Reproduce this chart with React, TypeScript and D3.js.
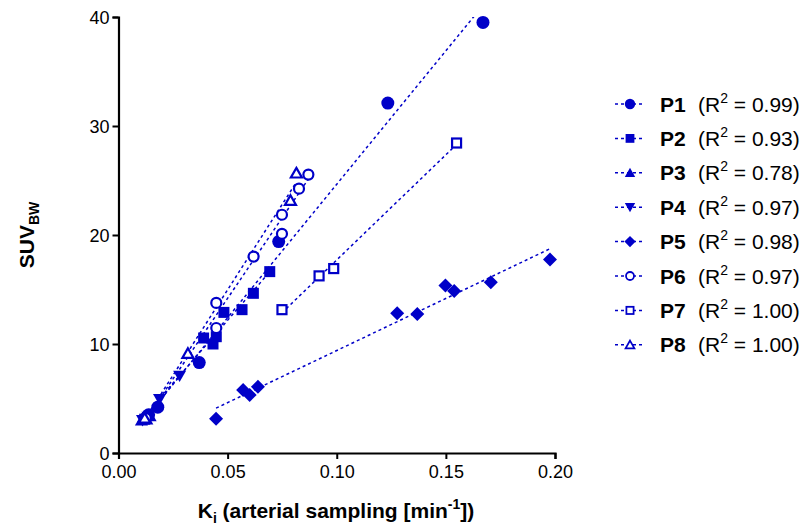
import * as d3 from "d3";
import { useEffect, useRef } from "react";

// Ki (arterial sampling) vs SUVbw per patient
const p1 = [[0.0125, 3.2], [0.0138, 3.5], [0.018, 4.2], [0.037, 8.3], [0.0734, 19.4], [0.1234, 32.1], [0.167, 39.5]];
const p2 = [[0.012, 3.1], [0.039, 10.55], [0.0433, 10.0], [0.0448, 10.67], [0.0483, 12.9], [0.0566, 13.15], [0.0618, 14.65], [0.0693, 16.64]];
const p3 = [[0.0105, 3.0], [0.0115, 3.3], [0.013, 3.1], [0.0145, 3.4]];
const p4 = [[0.011, 3.0], [0.0135, 3.3], [0.0188, 4.93], [0.028, 7.08]];
const p5 = [[0.0447, 3.15], [0.0571, 5.77], [0.0601, 5.33], [0.0639, 6.07], [0.1277, 12.81], [0.1369, 12.75], [0.1498, 15.36], [0.1538, 14.87], [0.1706, 15.66], [0.1977, 17.75]];
const p6 = [[0.0125, 3.2], [0.0448, 13.77], [0.0448, 11.47], [0.0619, 18.02], [0.0749, 20.11], [0.0749, 21.86], [0.0827, 24.25], [0.087, 25.54]];
const p7 = [[0.0749, 13.15], [0.0919, 16.25], [0.0986, 16.92], [0.1549, 28.44]];
const p8 = [[0.012, 3.2], [0.0318, 9.13], [0.0788, 23.17], [0.0815, 25.68]];

const patients = ["P1", "P2", "P3", "P4", "P5", "P6", "P7", "P8"];
const r2Labels = ["0.99", "0.93", "0.78", "0.97", "0.98", "0.97", "1.00", "1.00"];
const shapes = ["circle", "square", "triangle", "triangleDown", "diamond", "circleOpen", "squareOpen", "triangleOpen"];
const allSeries = [p1, p2, p3, p4, p5, p6, p7, p8];

const xTicks = [0, 0.05, 0.1, 0.15, 0.2];
const yTicks = [0, 10, 20, 30, 40];

const BLUE = "#0000c8";
const FONT = "Arial, 'Liberation Sans', Helvetica, sans-serif";

// simple least squares fit
const fit = (pts) => {
    const mx = d3.mean(pts, d => d[0]);
    const my = d3.mean(pts, d => d[1]);
    const sxy = d3.sum(pts, d => (d[0] - mx) * (d[1] - my));
    const sxx = d3.sum(pts, d => (d[0] - mx) ** 2);
    const slope = sxy / sxx;
    return { slope, intercept: my - slope * mx };
};

const drawMarker = (g, shape, x, y, k) => {
    const open = shape.endsWith("Open");
    const fill = open ? "white" : BLUE;
    const sw = open ? 2.2 * k : 0;
    if (shape.startsWith("circle")) {
        g.append("circle").attr("cx", x).attr("cy", y).attr("r", (open ? 5 : 6.5) * k)
            .attr("fill", fill).attr("stroke", BLUE).attr("stroke-width", sw);
    } else if (shape.startsWith("square")) {
        const s = (open ? 9 : 11) * k;
        g.append("rect").attr("x", x - s / 2).attr("y", y - s / 2).attr("width", s).attr("height", s)
            .attr("fill", fill).attr("stroke", BLUE).attr("stroke-width", sw);
    } else if (shape === "diamond") {
        const h = 7 * k;
        g.append("path").attr("d", `M${x},${y - h}L${x + h},${y}L${x},${y + h}L${x - h},${y}Z`).attr("fill", BLUE);
    } else if (shape === "triangleDown") {
        const h = 6.5 * k;
        g.append("path").attr("d", `M${x - h},${y - h * 0.8}L${x + h},${y - h * 0.8}L${x},${y + h * 0.95}Z`).attr("fill", BLUE);
    } else {
        const h = (open ? 5.5 : 6.5) * k;
        g.append("path").attr("d", `M${x},${y - h * 0.95}L${x + h},${y + h * 0.8}L${x - h},${y + h * 0.8}Z`)
            .attr("fill", fill).attr("stroke", BLUE).attr("stroke-width", sw).attr("stroke-linejoin", "miter");
    }
};

const App = () => {
    const chartRef = useRef(null);

    useEffect(() => {
        const svg = d3.select(chartRef.current);
        svg.selectAll("*").remove();

        const x = d3.scaleLinear().domain([0, 0.2]).range([118.5, 555]);
        const y = d3.scaleLinear().domain([0, 40]).range([453, 17]);

        svg.append("clipPath").attr("id", "plotclip")
            .append("rect").attr("x", 118).attr("y", 17).attr("width", 440).attr("height", 437);

        // fit lines
        const lines = svg.append("g").attr("clip-path", "url(#plotclip)");
        allSeries.forEach(pts => {
            const { slope, intercept } = fit(pts);
            const [x0, x1] = d3.extent(pts, d => d[0]);
            lines.append("line")
                .attr("x1", x(x0)).attr("y1", y(slope * x0 + intercept))
                .attr("x2", x(x1)).attr("y2", y(slope * x1 + intercept))
                .attr("stroke", BLUE).attr("stroke-width", 1.5).attr("stroke-dasharray", "3,3");
        });

        // points
        const pts = svg.append("g");
        allSeries.forEach((series, i) => {
            series.forEach(d => drawMarker(pts, shapes[i], x(d[0]), y(d[1]), 1));
        });

        // axes
        const xAxis = svg.append("g").attr("transform", `translate(0, ${y(0)})`)
            .call(d3.axisBottom(x).tickValues(xTicks).tickFormat(d3.format(".2f")).tickSizeOuter(0).tickSize(6).tickPadding(6));
        const yAxis = svg.append("g").attr("transform", `translate(${x(0)}, 0)`)
            .call(d3.axisLeft(y).tickValues(yTicks).tickFormat(d3.format("d")).tickSizeOuter(0).tickSize(6).tickPadding(3));
        [xAxis, yAxis].forEach(a => {
            a.select(".domain").attr("stroke", "black").attr("stroke-width", 2.2);
            a.selectAll(".tick line").attr("stroke", "black").attr("stroke-width", 2);
            a.selectAll(".tick text").attr("font-family", FONT).attr("font-size", 18).attr("fill", "black");
        });
        yAxis.selectAll(".tick text").attr("dy", "0.34em");

        // axis titles
        const yt = svg.append("text")
            .attr("transform", "translate(34, 235) rotate(-90)")
            .attr("text-anchor", "middle")
            .attr("font-family", FONT).attr("font-weight", "bold").attr("font-size", 21);
        yt.append("tspan").text("SUV");
        yt.append("tspan").attr("font-size", 14).attr("dy", 5).text("BW");

        const xt = svg.append("text")
            .attr("x", 336).attr("y", 518)
            .attr("text-anchor", "middle")
            .attr("font-family", FONT).attr("font-weight", "bold").attr("font-size", 21);
        xt.append("tspan").text("K");
        xt.append("tspan").attr("font-size", 14).attr("dy", 5).text("i");
        xt.append("tspan").attr("dy", -5).text(" (arterial sampling [min");
        xt.append("tspan").attr("font-size", 14).attr("dy", -9).text("-1");
        xt.append("tspan").attr("dy", 9).text("])");

        // legend
        const legend = svg.append("g");
        patients.forEach((p, i) => {
            const ly = 104 + i * 34.4;
            legend.append("line").attr("x1", 615).attr("x2", 644).attr("y1", ly).attr("y2", ly)
                .attr("stroke", BLUE).attr("stroke-width", 1.5).attr("stroke-dasharray", "3,3");
            drawMarker(legend, shapes[i], 630, ly, 0.8);
            legend.append("text").attr("x", 660).attr("y", ly + 7.5)
                .attr("font-family", FONT).attr("font-weight", "bold").attr("font-size", 21).text(p);
            const t = legend.append("text").attr("x", 698).attr("y", ly + 7.5)
                .attr("font-family", FONT).attr("font-size", 21);
            t.append("tspan").text("(R");
            t.append("tspan").attr("font-size", 14).attr("dy", -9).text("2");
            t.append("tspan").attr("dy", 9).text(` = ${r2Labels[i]})`);
        });
    }, []);

    return (
        <svg ref={chartRef} width={810} height={532}
            style={{ position: "absolute", left: 0, top: 0, background: "white" }}></svg>
    );
};

export default App;
